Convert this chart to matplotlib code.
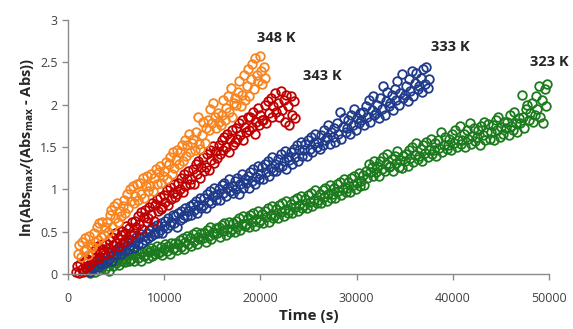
import matplotlib
matplotlib.use("Agg")
import matplotlib.pyplot as plt

plt.rcParams['font.family'] = ['Open Sans', 'DejaVu Sans']
plt.rcParams['mathtext.default'] = 'regular'

# 348 K (orange)
t_348 = [1000, 1150, 1300, 1450, 1600, 1750, 1900, 2050, 2200, 2350,
         2500, 2650, 2800, 2950, 3100, 3250, 3400, 3550, 3700, 3850,
         4000, 4150, 4300, 4450, 4600, 4750, 4900, 5050, 5200, 5350,
         5500, 5650, 5800, 5950, 6100, 6250, 6400, 6550, 6700, 6850,
         7000, 7150, 7300, 7450, 7600, 7750, 7900, 8050, 8200, 8350,
         8500, 8650, 8800, 8950, 9100, 9250, 9400, 9550, 9700, 9850,
         10000, 10150, 10300, 10450, 10600, 10750, 10900, 11050, 11200, 11350,
         11500, 11650, 11800, 11950, 12100, 12250, 12400, 12550, 12700, 12850,
         13000, 13150, 13300, 13450, 13600, 13750, 13900, 14050, 14200, 14350,
         14500, 14650, 14800, 14950, 15100, 15250, 15400, 15550, 15700, 15850,
         16000, 16150, 16300, 16450, 16600, 16750, 16900, 17050, 17200, 17350,
         17500, 17650, 17800, 17950, 18100, 18250, 18400, 18550, 18700, 18850,
         19000, 19150, 19300, 19450, 19600, 19750, 19900, 20050, 20200, 20350,
         20500]
y_348 = [0.24, 0.34, 0.20, 0.38, 0.27, 0.42, 0.30, 0.22, 0.45, 0.33,
         0.32, 0.48, 0.38, 0.55, 0.40, 0.60, 0.44, 0.62, 0.46, 0.56,
         0.62, 0.50, 0.70, 0.76, 0.56, 0.80, 0.66, 0.84, 0.62, 0.74,
         0.68, 0.80, 0.88, 0.72, 0.95, 0.78, 1.00, 0.86, 1.04, 0.84,
         0.92, 1.06, 0.88, 1.08, 0.95, 1.14, 0.90, 1.04, 1.16, 0.98,
         1.04, 1.18, 0.98, 1.14, 1.24, 1.06, 1.20, 1.28, 1.08, 1.16,
         1.22, 1.32, 1.12, 1.30, 1.38, 1.18, 1.44, 1.25, 1.35, 1.46,
         1.30, 1.44, 1.52, 1.34, 1.58, 1.40, 1.52, 1.66, 1.44, 1.55,
         1.60, 1.46, 1.68, 1.85, 1.54, 1.48, 1.64, 1.80, 1.55, 1.72,
         1.82, 1.70, 1.95, 1.78, 2.02, 1.85, 1.72, 1.90, 1.80, 1.76,
         1.88, 2.05, 1.82, 1.96, 2.10, 1.92, 2.20, 1.86, 2.02, 2.08,
         2.00, 2.15, 2.28, 1.98, 2.12, 2.35, 2.05, 2.22, 2.42, 2.10,
         2.30, 2.48, 2.18, 2.55, 2.35, 2.28, 2.58, 2.40, 2.25, 2.45,
         2.32]

# 343 K (red)
t_343 = [800, 950, 1100, 1250, 1400, 1550, 1700, 1850, 2000, 2150,
         2300, 2450, 2600, 2750, 2900, 3050, 3200, 3350, 3500, 3650,
         3800, 3950, 4100, 4250, 4400, 4550, 4700, 4850, 5000, 5150,
         5300, 5450, 5600, 5750, 5900, 6050, 6200, 6350, 6500, 6650,
         6800, 6950, 7100, 7250, 7400, 7550, 7700, 7850, 8000, 8150,
         8300, 8450, 8600, 8750, 8900, 9050, 9200, 9350, 9500, 9650,
         9800, 9950, 10100, 10250, 10400, 10550, 10700, 10850, 11000, 11150,
         11300, 11450, 11600, 11750, 11900, 12050, 12200, 12350, 12500, 12650,
         12800, 12950, 13100, 13250, 13400, 13550, 13700, 13850, 14000, 14150,
         14300, 14450, 14600, 14750, 14900, 15050, 15200, 15350, 15500, 15650,
         15800, 15950, 16100, 16250, 16400, 16550, 16700, 16850, 17000, 17150,
         17300, 17450, 17600, 17750, 17900, 18050, 18200, 18350, 18500, 18650,
         18800, 18950, 19100, 19250, 19400, 19550, 19700, 19850, 20000, 20150,
         20300, 20450, 20600, 20750, 20900, 21050, 21200, 21350, 21500, 21650,
         21800, 21950, 22100, 22250, 22400, 22550, 22700, 22850, 23000, 23150,
         23300, 23450, 23600]
y_343 = [0.03, 0.10, 0.01, 0.12, 0.06, 0.02, 0.15, 0.08, 0.18, 0.11,
         0.12, 0.24, 0.16, 0.28, 0.20, 0.33, 0.19, 0.26, 0.36, 0.30,
         0.24, 0.36, 0.31, 0.40, 0.26, 0.44, 0.34, 0.48, 0.37, 0.42,
         0.33, 0.46, 0.51, 0.38, 0.49, 0.57, 0.41, 0.54, 0.46, 0.61,
         0.49, 0.63, 0.55, 0.69, 0.59, 0.73, 0.53, 0.67, 0.76, 0.61,
         0.66, 0.79, 0.71, 0.84, 0.63, 0.81, 0.89, 0.75, 0.91, 0.77,
         0.79, 0.93, 0.85, 0.99, 0.81, 1.03, 0.89, 0.96, 1.06, 0.91,
         0.94, 1.08, 1.00, 1.14, 0.97, 1.18, 1.04, 1.12, 1.22, 1.06,
         1.12, 1.24, 1.06, 1.30, 1.18, 1.34, 1.14, 1.27, 1.38, 1.22,
         1.27, 1.42, 1.23, 1.47, 1.35, 1.51, 1.31, 1.45, 1.37, 1.53,
         1.42, 1.58, 1.46, 1.62, 1.50, 1.66, 1.44, 1.60, 1.70, 1.52,
         1.56, 1.72, 1.60, 1.78, 1.64, 1.82, 1.58, 1.74, 1.68, 1.85,
         1.70, 1.86, 1.74, 1.92, 1.66, 1.80, 1.96, 1.76, 1.88, 1.82,
         1.82, 2.00, 1.78, 2.04, 1.90, 2.08, 1.86, 1.98, 2.14, 1.92,
         2.02, 1.86, 2.16, 1.94, 2.06, 1.80, 2.12, 1.98, 1.76, 2.10,
         1.88, 2.04, 1.84]

# 323 K (green); 333 K shares the same sampling times
t_323 = [2000, 2150, 2300, 2450, 2600, 2750, 2900, 3050, 3200, 3350,
         3500, 3650, 3800, 3950, 4100, 4250, 4400, 4550, 4700, 4850,
         5000, 5150, 5300, 5450, 5600, 5750, 5900, 6050, 6200, 6350,
         6500, 6650, 6800, 6950, 7100, 7250, 7400, 7550, 7700, 7850,
         8000, 8150, 8300, 8450, 8600, 8750, 8900, 9050, 9200, 9350,
         9500, 9650, 9800, 9950, 10100, 10250, 10400, 10550, 10700, 10850,
         11000, 11150, 11300, 11450, 11600, 11750, 11900, 12050, 12200, 12350,
         12500, 12650, 12800, 12950, 13100, 13250, 13400, 13550, 13700, 13850,
         14000, 14150, 14300, 14450, 14600, 14750, 14900, 15050, 15200, 15350,
         15500, 15650, 15800, 15950, 16100, 16250, 16400, 16550, 16700, 16850,
         17000, 17150, 17300, 17450, 17600, 17750, 17900, 18050, 18200, 18350,
         18500, 18650, 18800, 18950, 19100, 19250, 19400, 19550, 19700, 19850,
         20000, 20150, 20300, 20450, 20600, 20750, 20900, 21050, 21200, 21350,
         21500, 21650, 21800, 21950, 22100, 22250, 22400, 22550, 22700, 22850,
         23000, 23150, 23300, 23450, 23600, 23750, 23900, 24050, 24200, 24350,
         24500, 24650, 24800, 24950, 25100, 25250, 25400, 25550, 25700, 25850,
         26000, 26150, 26300, 26450, 26600, 26750, 26900, 27050, 27200, 27350,
         27500, 27650, 27800, 27950, 28100, 28250, 28400, 28550, 28700, 28850,
         29000, 29150, 29300, 29450, 29600, 29750, 29900, 30050, 30200, 30350,
         30500, 30650, 30800, 30950, 31100, 31250, 31400, 31550, 31700, 31850,
         32000, 32150, 32300, 32450, 32600, 32750, 32900, 33050, 33200, 33350,
         33500, 33650, 33800, 33950, 34100, 34250, 34400, 34550, 34700, 34850,
         35000, 35150, 35300, 35450, 35600, 35750, 35900, 36050, 36200, 36350,
         36500, 36650, 36800, 36950, 37100, 37250, 37400, 37550, 37700, 37850,
         38000, 38150, 38300, 38450, 38600, 38750, 38900, 39050, 39200, 39350,
         39500, 39650, 39800, 39950, 40100, 40250, 40400, 40550, 40700, 40850,
         41000, 41150, 41300, 41450, 41600, 41750, 41900, 42050, 42200, 42350,
         42500, 42650, 42800, 42950, 43100, 43250, 43400, 43550, 43700, 43850,
         44000, 44150, 44300, 44450, 44600, 44750, 44900, 45050, 45200, 45350,
         45500, 45650, 45800, 45950, 46100, 46250, 46400, 46550, 46700, 46850,
         47000, 47150, 47300, 47450, 47600, 47750, 47900, 48050, 48200, 48350,
         48500, 48650, 48800, 48950, 49100, 49250, 49400, 49550, 49700, 49850]
y_323 = [0.04, 0.08, 0.01, 0.06, 0.10, 0.03, 0.09, 0.12, 0.05, 0.11,
         0.08, 0.13, 0.06, 0.15, 0.10, 0.04, 0.14, 0.17, 0.09, 0.16,
         0.13, 0.19, 0.11, 0.21, 0.15, 0.23, 0.14, 0.18, 0.24, 0.16,
         0.18, 0.24, 0.15, 0.22, 0.27, 0.19, 0.25, 0.16, 0.26, 0.21,
         0.22, 0.28, 0.19, 0.26, 0.31, 0.21, 0.29, 0.24, 0.33, 0.25,
         0.26, 0.32, 0.22, 0.30, 0.35, 0.27, 0.33, 0.24, 0.37, 0.30,
         0.31, 0.37, 0.28, 0.35, 0.40, 0.32, 0.42, 0.30, 0.38, 0.45,
         0.36, 0.43, 0.33, 0.47, 0.39, 0.50, 0.35, 0.44, 0.41, 0.48,
         0.42, 0.49, 0.38, 0.52, 0.45, 0.55, 0.41, 0.50, 0.47, 0.54,
         0.48, 0.55, 0.44, 0.58, 0.51, 0.60, 0.46, 0.53, 0.62, 0.50,
         0.53, 0.60, 0.50, 0.63, 0.56, 0.66, 0.52, 0.59, 0.68, 0.57,
         0.59, 0.66, 0.55, 0.70, 0.62, 0.72, 0.57, 0.65, 0.74, 0.61,
         0.64, 0.71, 0.60, 0.75, 0.67, 0.78, 0.62, 0.70, 0.80, 0.66,
         0.70, 0.77, 0.66, 0.81, 0.73, 0.84, 0.68, 0.76, 0.86, 0.72,
         0.76, 0.83, 0.72, 0.87, 0.79, 0.90, 0.74, 0.82, 0.92, 0.78,
         0.82, 0.89, 0.78, 0.93, 0.85, 0.96, 0.80, 0.88, 0.99, 0.84,
         0.88, 0.95, 0.84, 0.99, 0.91, 1.02, 0.86, 0.94, 1.05, 0.90,
         0.95, 1.02, 0.90, 1.06, 0.98, 1.09, 0.93, 1.01, 1.12, 0.97,
         1.02, 1.09, 0.97, 1.13, 1.05, 1.16, 1.00, 1.08, 1.19, 1.04,
         1.10, 1.17, 1.05, 1.22, 1.13, 1.30, 1.20, 1.26, 1.16, 1.33,
         1.20, 1.28, 1.16, 1.34, 1.24, 1.38, 1.22, 1.30, 1.42, 1.26,
         1.28, 1.36, 1.22, 1.40, 1.31, 1.45, 1.27, 1.35, 1.25, 1.39,
         1.34, 1.42, 1.28, 1.46, 1.37, 1.50, 1.32, 1.41, 1.55, 1.36,
         1.40, 1.48, 1.34, 1.52, 1.43, 1.56, 1.38, 1.47, 1.60, 1.42,
         1.46, 1.55, 1.40, 1.58, 1.49, 1.68, 1.44, 1.53, 1.62, 1.48,
         1.52, 1.60, 1.46, 1.65, 1.55, 1.70, 1.50, 1.58, 1.75, 1.54,
         1.58, 1.66, 1.50, 1.70, 1.60, 1.78, 1.54, 1.63, 1.73, 1.57,
         1.62, 1.70, 1.52, 1.75, 1.64, 1.80, 1.58, 1.68, 1.77, 1.60,
         1.68, 1.76, 1.58, 1.82, 1.70, 1.86, 1.62, 1.74, 1.66, 1.80,
         1.72, 1.80, 1.64, 1.88, 1.75, 1.70, 1.92, 1.78, 1.68, 1.84,
         1.78, 2.12, 1.86, 1.72, 1.95, 2.00, 1.82, 1.90, 2.02, 1.80,
         1.88, 2.10, 1.95, 2.22, 1.85, 2.05, 1.78, 2.18, 1.98, 2.25]

# 333 K (blue)
y_333 = [0.05, 0.09, 0.03, 0.12, 0.07, 0.10, 0.15, 0.08, 0.13, 0.18,
         0.12, 0.17, 0.20, 0.14, 0.22, 0.18, 0.25, 0.16, 0.23, 0.28,
         0.22, 0.28, 0.32, 0.24, 0.30, 0.36, 0.27, 0.33, 0.38, 0.30,
         0.34, 0.40, 0.31, 0.38, 0.44, 0.35, 0.42, 0.47, 0.37, 0.45,
         0.40, 0.48, 0.43, 0.52, 0.45, 0.55, 0.47, 0.50, 0.58, 0.49,
         0.52, 0.60, 0.48, 0.57, 0.63, 0.54, 0.66, 0.58, 0.62, 0.70,
         0.60, 0.68, 0.56, 0.72, 0.64, 0.75, 0.66, 0.70, 0.78, 0.68,
         0.74, 0.80, 0.70, 0.83, 0.76, 0.86, 0.72, 0.82, 0.90, 0.78,
         0.82, 0.90, 0.78, 0.94, 0.86, 0.98, 0.84, 0.92, 1.02, 0.88,
         0.94, 1.00, 0.88, 1.05, 0.96, 1.08, 0.92, 1.02, 1.12, 0.98,
         1.04, 0.96, 1.10, 1.00, 1.14, 0.95, 1.06, 1.18, 1.02, 1.12,
         1.08, 1.16, 1.02, 1.20, 1.10, 1.24, 1.06, 1.15, 1.28, 1.12,
         1.18, 1.26, 1.12, 1.30, 1.20, 1.34, 1.16, 1.25, 1.38, 1.22,
         1.30, 1.22, 1.36, 1.26, 1.42, 1.28, 1.34, 1.45, 1.24, 1.38,
         1.35, 1.44, 1.30, 1.48, 1.38, 1.52, 1.34, 1.46, 1.56, 1.40,
         1.46, 1.54, 1.40, 1.58, 1.48, 1.62, 1.44, 1.55, 1.66, 1.50,
         1.56, 1.48, 1.64, 1.52, 1.70, 1.58, 1.62, 1.76, 1.54, 1.68,
         1.62, 1.72, 1.56, 1.78, 1.66, 1.92, 1.60, 1.74, 1.84, 1.68,
         1.72, 1.82, 1.66, 1.88, 1.76, 1.95, 1.70, 1.84, 1.78, 1.90,
         1.82, 1.92, 1.76, 1.98, 1.86, 2.05, 1.80, 1.94, 2.10, 1.88,
         1.90, 2.00, 1.84, 2.08, 1.95, 2.22, 1.88, 2.04, 2.15, 1.98,
         2.02, 2.12, 1.94, 2.18, 2.06, 2.28, 2.00, 2.14, 2.36, 2.08,
         2.12, 2.22, 2.04, 2.30, 2.16, 2.40, 2.10, 2.26, 2.38, 2.18,
         2.22, 2.32, 2.15, 2.42, 2.25, 2.45, 2.20, 2.30]
t_333 = t_323[:len(y_333)]

series = [
    (t_323, y_323, "#1b7a1b", "323 K", (48000, 2.50)),
    (t_333, y_333, "#1f3a8a", "333 K", (37700, 2.68)),
    (t_343, y_343, "#c00000", "343 K", (24400, 2.34)),
    (t_348, y_348, "#f7841f", "348 K", (19600, 2.79)),
]

fig = plt.figure(figsize=(5.73, 3.29), dpi=100)
ax = fig.add_axes([0.119, 0.167, 0.839, 0.772])

for t, y, col, lab, pos in series:
    ax.plot(t, y, linestyle="none", marker="o", markersize=6.2,
            markerfacecolor="none", markeredgecolor=col, markeredgewidth=1.3,
            clip_on=False)
    ax.text(pos[0], pos[1], lab, fontsize=10.5, fontweight="bold",
            color="#262626", va="center", ha="left", clip_on=False)

ax.set_xlim(0, 50000)
ax.set_ylim(0, 3)
ax.set_xticks([0, 10000, 20000, 30000, 40000, 50000])
ax.set_xticklabels(["0", "10000", "20000", "30000", "40000", "50000"])
ax.set_yticks([0, 0.5, 1, 1.5, 2, 2.5, 3])
ax.set_yticklabels(["0", "0.5", "1", "1.5", "2", "2.5", "3"])

for s in ["top", "right"]:
    ax.spines[s].set_visible(False)
for s in ["left", "bottom"]:
    ax.spines[s].set_color("#8a8a8a")
    ax.spines[s].set_linewidth(1.0)
ax.tick_params(direction="out", length=4, width=1.0, color="#8a8a8a",
               labelsize=9, labelcolor="#404040")
ax.tick_params(axis="x", pad=9)

ax.set_xlabel("Time (s)", fontsize=11, fontweight="bold", color="#262626", labelpad=3)
ax.set_ylabel(r"ln(Abs$_{max}$/(Abs$_{max}$ - Abs))", fontsize=10.5,
              fontweight="bold", color="#262626", labelpad=3)

fig.savefig("out.png", dpi=100)
